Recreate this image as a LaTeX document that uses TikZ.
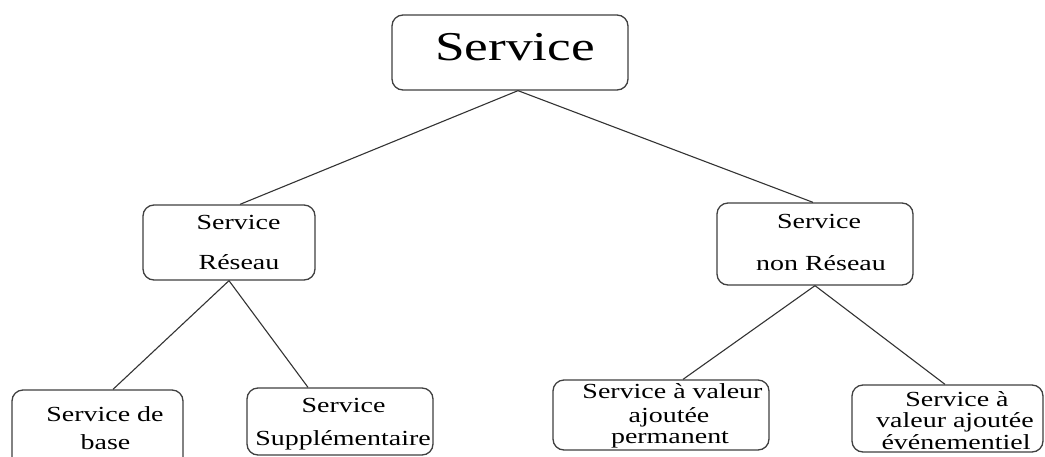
\documentclass[tikz,border=0pt]{standalone}
\usepackage{fontspec}
\setmainfont{Liberation Serif}
\newfontfamily\widefont[FakeStretch=1.3]{Liberation Serif}
\begin{document}
\begin{tikzpicture}[x=1pt,y=-1pt,
  box/.style={draw=black!75, line width=1.3pt, rounded corners=11pt, inner sep=0pt, fill=white},
  link/.style={draw=black!80, line width=1.1pt},
  big/.style={anchor=base, inner sep=0pt, font=\widefont\fontsize{41}{41}\selectfont},
  lbl/.style={anchor=base, inner sep=0pt, font=\widefont\fontsize{21.5}{21.5}\selectfont}]
\clip (0,0) rectangle (1045,456);
\fill[white] (0,0) rectangle (1045,456);

% boxes
\node[box, minimum width=236pt, minimum height=75pt] (top) at (510,52.5) {};
\node[box, minimum width=172pt, minimum height=75pt] (res) at (229,242.5) {};
\node[box, minimum width=196pt, minimum height=82pt] (nres) at (815,244) {};
\node[box, minimum width=171pt, minimum height=85pt] (base) at (97.5,432.5) {};
\node[box, minimum width=186pt, minimum height=67pt] (supp) at (340,421.5) {};
\node[box, minimum width=216pt, minimum height=70pt] (perm) at (661,415) {};
\node[box, minimum width=191pt, minimum height=67pt] (evt) at (947.5,418.5) {};

% connectors
\draw[link] ([xshift=8pt]top.south) -- ([xshift=11pt]res.north);
\draw[link] ([xshift=8pt]top.south) -- ([xshift=-2pt]nres.north);
\draw[link] (res.south) -- ([xshift=15.5pt]base.north);
\draw[link] (res.south) -- ([xshift=-32pt]supp.north);
\draw[link] (nres.south) -- ([xshift=22pt]perm.north);
\draw[link] (nres.south) -- ([xshift=-2.5pt]evt.north);

% texts
\node[big] (t0) at (515,60) {Service};

\node[lbl] (t1) at (238.5,229) {Service};
\node[lbl] (t2) at (239,269) {Réseau};

\node[lbl] (t3) at (819,228) {Service};
\node[lbl] (t4) at (821,270) {non Réseau};

\node[lbl] (t5) at (105,421) {Service de};
\node[lbl] (t6) at (105.5,449) {base};

\node[lbl] (t7) at (343.5,412) {Service};
\node[lbl] (t8) at (343,445) {Supplémentaire};

\node[lbl] (t9) at (672.5,398) {Service à valeur};
\node[lbl] (t10) at (669,422) {ajoutée};
\node[lbl] (t11) at (670,443) {permanent};

\node[lbl] (t12) at (957,406) {Service à};
\node[lbl] (t13) at (955,427) {valeur ajoutée};
\node[lbl] (t14) at (956,449) {événementiel};
\end{tikzpicture}
\end{document}
